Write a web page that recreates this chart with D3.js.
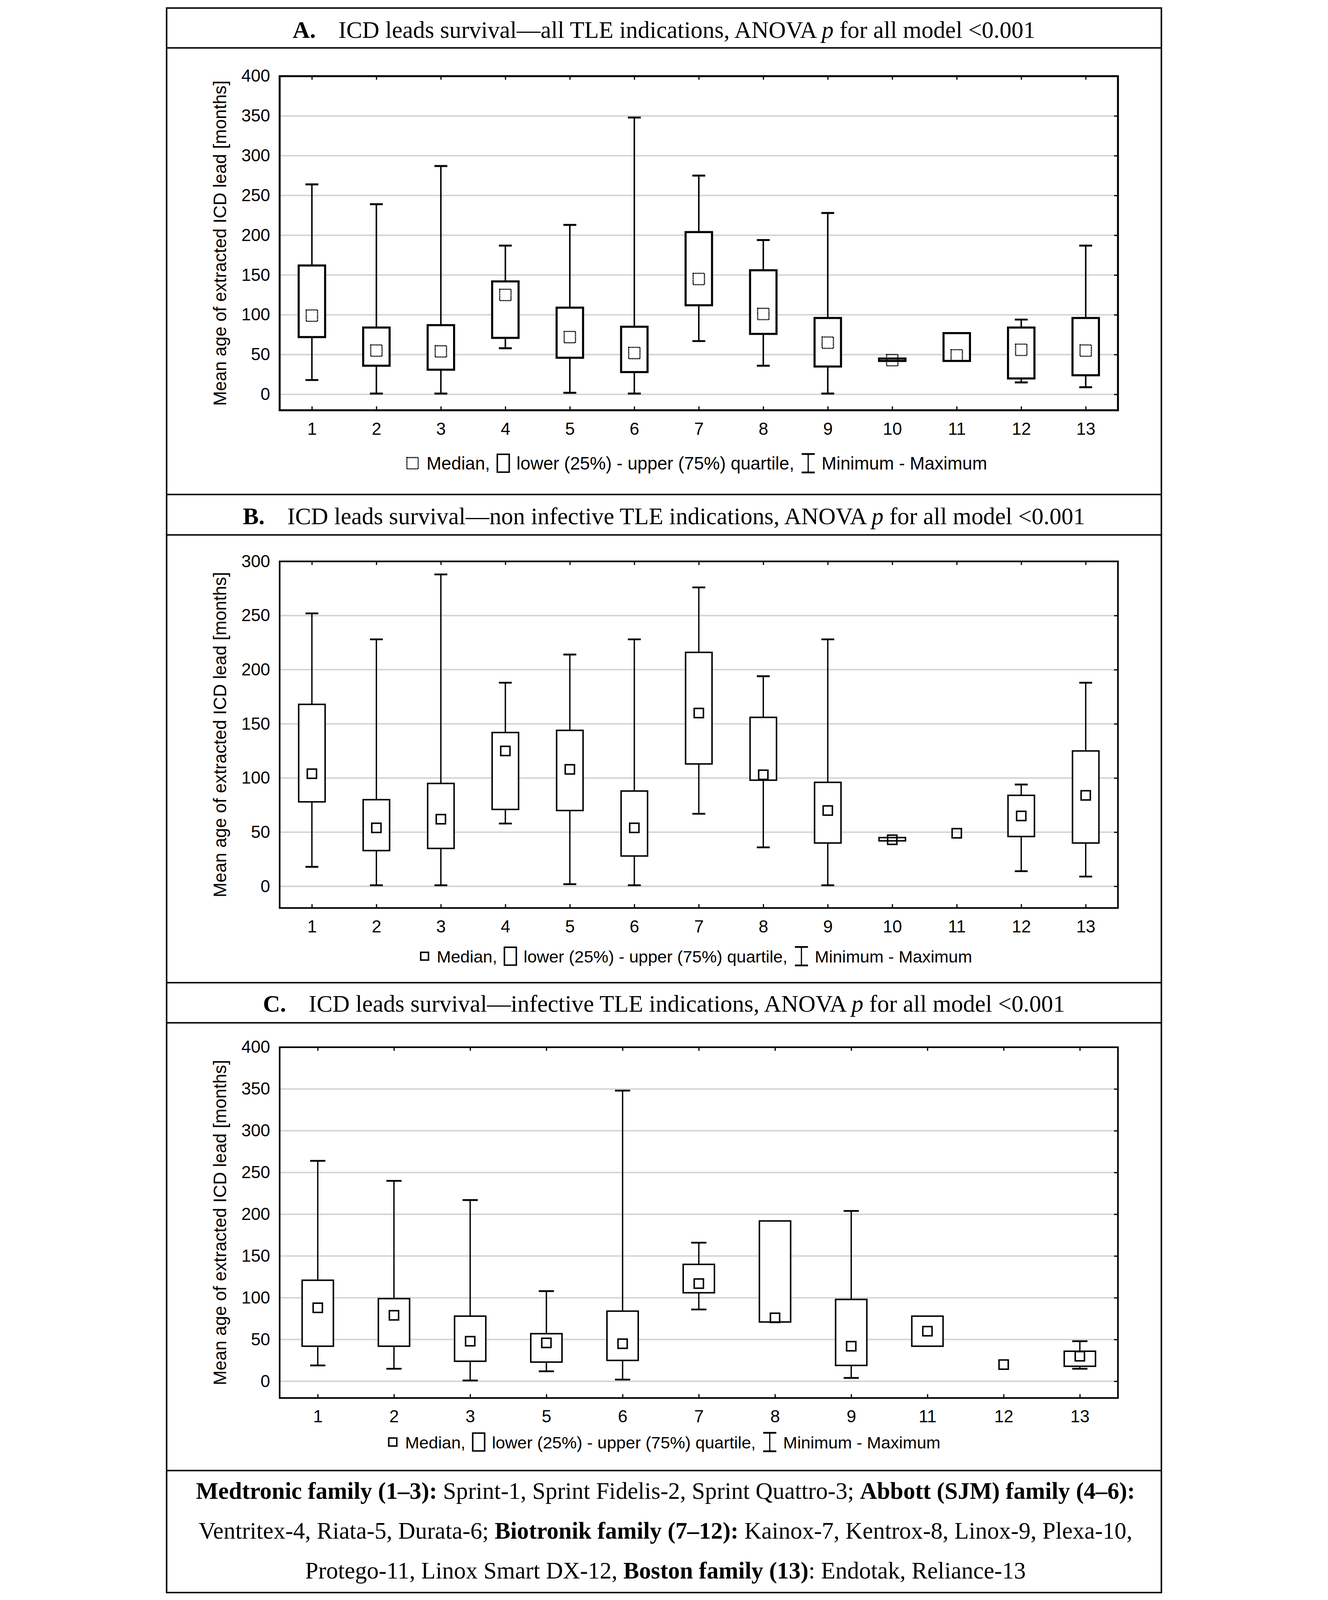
<!DOCTYPE html>
<html>
<head>
<meta charset="utf-8">
<script src="https://cdn.jsdelivr.net/npm/d3@7"></script>
<style>
html,body{margin:0;padding:0;background:#fff;overflow:hidden}
svg{display:block}
</style>
</head>
<body>
<svg id="chart" viewBox="0 0 3400 5378" preserveAspectRatio="xMidYMin meet"></svg>
<script>
// panel A - all TLE indications
const catsA = ["1","2","3","4","5","6","7","8","9","10","11","12","13"];
const minA = [18, 1, 1, 58, 2, 1, 67, 36, 1, 42, 42, 15, 9];
const q1A  = [72, 36, 31, 71, 46, 28, 112, 76, 35, 42, 42, 20, 24];
const medA = [99, 55, 54, 125, 72, 52, 145, 101, 65, 43, 49, 56, 55];
const q3A  = [162, 84, 87, 142, 109, 85, 204, 156, 96, 45, 77, 84, 96];
const maxA = [264, 239, 287, 187, 213, 348, 275, 194, 228, 45, 77, 94, 187];

// panel B - non infective
const catsB = ["1","2","3","4","5","6","7","8","9","10","11","12","13"];
const minB = [18, 1, 1, 58, 2, 1, 67, 36, 1, 42, 49, 14, 9];
const q1B  = [78, 33, 35, 71, 70, 28, 113, 98, 40, 42, 49, 46, 40];
const medB = [104, 54, 62, 125, 108, 54, 160, 103, 70, 43, 49, 65, 84];
const q3B  = [168, 80, 95, 142, 144, 88, 216, 156, 96, 45, 49, 84, 125];
const maxB = [252, 228, 288, 188, 214, 228, 276, 194, 228, 45, 49, 94, 188];

// panel C - infective (no 4 and 10)
const catsC = ["1","2","3","5","6","7","8","9","11","12","13"];
const minC = [19, 15, 1, 12, 2, 86, 71, 4, 42, 20, 15];
const q1C  = [42, 42, 24, 23, 25, 106, 71, 19, 42, 20, 18];
const medC = [88, 79, 48, 46, 45, 117, 76, 42, 60, 20, 30];
const q3C  = [121, 99, 78, 57, 84, 140, 192, 98, 78, 20, 36];
const maxC = [264, 240, 217, 108, 348, 166, 192, 204, 78, 20, 48];

const yMaxA = 400, yMaxB = 300, yMaxC = 400;
const Y_MIN = -20;

const yLabel = "Mean age of extracted ICD lead [months]";
const legendLabels = ["Median,", "lower (25%) - upper (75%) quartile,", "Minimum - Maximum"];

const titleA = ["A.", "ICD leads survival\u2014all TLE indications, ANOVA ", "p", " for all model <0.001"];
const titleB = ["B.", "ICD leads survival\u2014non infective TLE indications, ANOVA ", "p", " for all model <0.001"];
const titleC = ["C.", "ICD leads survival\u2014infective TLE indications, ANOVA ", "p", " for all model <0.001"];

// footer lines, [text, bold]
const footer = [
  [["Medtronic family (1\u20133):", true], [" Sprint-1, Sprint Fidelis-2, Sprint Quattro-3; ", false], ["Abbott (SJM) family (4\u20136):", true]],
  [["Ventritex-4, Riata-5, Durata-6; ", false], ["Biotronik family (7\u201312):", true], [" Kainox-7, Kentrox-8, Linox-9, Plexa-10,", false]],
  [["Protego-11, Linox Smart DX-12, ", false], ["Boston family (13)", true], [": Endotak, Reliance-13", false]]
];

const SERIF = "'Liberation Serif','DejaVu Serif',serif";
const SANS = "'Liberation Sans',Arial,sans-serif";

// fit the whole 3400x5378 drawing into the window
const svg = d3.select("#chart")
  .attr("width", window.innerWidth)
  .attr("height", window.innerHeight);
svg.append("rect").attr("width", 3400).attr("height", 5378).attr("fill", "#fff");

const PLOT_L = 408, PLOT_R = 3226;

// outer frame + separators
svg.append("rect").attr("x", 28).attr("y", 27).attr("width", 3344).attr("height", 5326)
  .attr("fill", "none").attr("stroke", "#000").attr("stroke-width", 5);
[161, 1662, 1798, 3303, 3438, 4943].forEach(yy => {
  svg.append("line").attr("x1", 28).attr("x2", 3372).attr("y1", yy).attr("y2", yy)
    .attr("stroke", "#000").attr("stroke-width", 5);
});

function drawTitle(parts, baseline, fs) {
  const t = svg.append("text").attr("x", 1700).attr("y", baseline)
    .attr("text-anchor", "middle").attr("font-family", SERIF).attr("font-size", fs);
  t.append("tspan").attr("font-weight", "bold").text(parts[0]);
  t.append("tspan").attr("dx", fs * 0.95).text(parts[1]);
  t.append("tspan").attr("font-style", "italic").text(parts[2]);
  t.append("tspan").text(parts[3]);
  return t;
}

// fit title size to the reference width
let tfs = 80;
const probe = drawTitle(titleA, 127, tfs);
tfs = tfs * 2496 / probe.node().getBBox().width;
probe.remove();
drawTitle(titleA, 127, tfs);
drawTitle(titleB, 1762, tfs);
drawTitle(titleC, 3400, tfs);

function addText(g, str, x, baseline, fs) {
  const t = g.append("text").attr("x", x).attr("y", baseline)
    .attr("font-family", SANS).attr("font-size", fs).text(str);
  return x + t.node().getComputedTextLength();
}

function drawLegend(cx, baseline, ms, dotted, fs) {
  const g = svg.append("g");
  const cy = baseline - 21;
  let cur = 0;
  g.append("rect").attr("x", cur).attr("y", cy - ms / 2).attr("width", ms).attr("height", ms)
    .attr("fill", "#fff").attr("stroke", "#000")
    .attr("stroke-width", dotted ? 4 : 5).attr("stroke-dasharray", dotted ? "4 1.5" : null);
  cur += ms + 28;
  cur = addText(g, legendLabels[0], cur, baseline, fs) + 22;
  g.append("rect").attr("x", cur + 2.5).attr("y", cy - 30).attr("width", 40).attr("height", 60)
    .attr("fill", "#fff").attr("stroke", "#000").attr("stroke-width", 5);
  cur += 45 + 22;
  cur = addText(g, legendLabels[1], cur, baseline, fs) + 24;
  const wx = cur + 23;
  g.append("line").attr("x1", wx).attr("x2", wx).attr("y1", cy - 31).attr("y2", cy + 31)
    .attr("stroke", "#000").attr("stroke-width", 4);
  [cy - 31, cy + 31].forEach(yy => g.append("line").attr("x1", wx - 22).attr("x2", wx + 22)
    .attr("y1", yy).attr("y2", yy).attr("stroke", "#000").attr("stroke-width", 6));
  cur += 46 + 22;
  cur = addText(g, legendLabels[2], cur, baseline, fs);
  g.attr("transform", `translate(${cx - cur / 2},0)`);
}

function drawPanel(p) {
  const x = d3.scalePoint().domain(p.cats).range([PLOT_L, PLOT_R]).padding(0.5);
  const y = d3.scaleLinear().domain([Y_MIN, p.yMax]).range([p.bottom, p.top]);
  const ticks = d3.range(0, p.yMax + 1, 50);
  const inner = ticks.filter(t => t < p.yMax);
  const g = svg.append("g");

  // grid
  g.selectAll(".grid").data(inner).join("line")
    .attr("x1", PLOT_L).attr("x2", PLOT_R).attr("y1", d => y(d)).attr("y2", d => y(d))
    .attr("stroke", "#d4d4d4").attr("stroke-width", 5);

  const rows = p.cats.map((c, i) => ({c, min: p.min[i], q1: p.q1[i], med: p.med[i], q3: p.q3[i], max: p.max[i]}));
  const step = x.step();
  const bw = step * 0.41, cw = step * 0.2;

  const s = g.selectAll(".box").data(rows).join("g");
  s.each(function(d) {
    const el = d3.select(this);
    const cx = x(d.c);
    if (d.max > d.q3) {
      el.append("line").attr("x1", cx).attr("x2", cx).attr("y1", y(d.q3)).attr("y2", y(d.max))
        .attr("stroke", "#000").attr("stroke-width", p.ww);
      el.append("line").attr("x1", cx - cw / 2).attr("x2", cx + cw / 2).attr("y1", y(d.max)).attr("y2", y(d.max))
        .attr("stroke", "#000").attr("stroke-width", p.ww + 1.5);
    }
    if (d.min < d.q1) {
      el.append("line").attr("x1", cx).attr("x2", cx).attr("y1", y(d.q1)).attr("y2", y(d.min))
        .attr("stroke", "#000").attr("stroke-width", p.ww);
      el.append("line").attr("x1", cx - cw / 2).attr("x2", cx + cw / 2).attr("y1", y(d.min)).attr("y2", y(d.min))
        .attr("stroke", "#000").attr("stroke-width", p.ww + 1.5);
    }
    if (d.q3 > d.q1) {
      el.append("rect").attr("x", cx - bw / 2).attr("y", y(d.q3)).attr("width", bw)
        .attr("height", y(d.q1) - y(d.q3))
        .attr("fill", "#fff").attr("stroke", "#000").attr("stroke-width", p.bsw);
    }
    el.append("rect").attr("x", cx - p.ms / 2).attr("y", y(d.med) - p.ms / 2)
      .attr("width", p.ms).attr("height", p.ms)
      .attr("fill", "none").attr("stroke", "#000")
      .attr("stroke-width", p.dotted ? 4 : 5)
      .attr("stroke-dasharray", p.dotted ? "4 1.5" : null);
  });

  // plot frame
  g.append("rect").attr("x", PLOT_L).attr("y", p.top).attr("width", PLOT_R - PLOT_L)
    .attr("height", p.bottom - p.top).attr("fill", "none").attr("stroke", "#000").attr("stroke-width", p.aw);

  const style = sel => {
    sel.select(".domain").remove();
    sel.attr("font-family", SANS).attr("font-size", 58);
    sel.selectAll("line").attr("stroke-width", 4);
  };

  g.append("g").attr("transform", `translate(${PLOT_L},0)`)
    .call(d3.axisLeft(y).tickValues(ticks).tickSize(0).tickPadding(32)).call(style);
  g.append("g").attr("transform", `translate(${PLOT_R},0)`)
    .call(d3.axisLeft(y).tickValues(inner).tickSize(13).tickFormat("")).call(style);
  g.append("g").attr("transform", `translate(0,${p.top})`)
    .call(d3.axisBottom(x).tickSize(12).tickFormat("")).call(style);
  g.append("g").attr("transform", `translate(0,${p.bottom})`)
    .call(d3.axisTop(x).tickSize(13).tickFormat("")).call(style);
  g.append("g").attr("transform", `translate(0,${p.bottom})`)
    .call(d3.axisBottom(x).tickSize(0).tickPadding(41)).call(style);

  g.append("text").attr("transform", `translate(228,${(p.top + p.bottom) / 2}) rotate(-90)`)
    .attr("text-anchor", "middle").attr("font-family", SANS).attr("font-size", 60).text(yLabel);

  drawLegend(p.legX, p.legY, p.lms, p.dotted, p.lfs);
}

drawPanel({cats: catsA, min: minA, q1: q1A, med: medA, q3: q3A, max: maxA, yMax: yMaxA,
  top: 256, bottom: 1379, ms: 38, bsw: 7, ww: 5, aw: 6.5, dotted: true,
  legX: 1811, legY: 1578, lms: 38, lfs: 60});
drawPanel({cats: catsB, min: minB, q1: q1B, med: medB, q3: q3B, max: maxB, yMax: yMaxB,
  top: 1887, bottom: 3052, ms: 31, bsw: 5, ww: 4.5, aw: 5.5, dotted: false,
  legX: 1809, legY: 3235, lms: 26, lfs: 57});
drawPanel({cats: catsC, min: minC, q1: q1C, med: medC, q3: q3C, max: maxC, yMax: yMaxC,
  top: 3520, bottom: 4699, ms: 31, bsw: 5, ww: 4.5, aw: 5.5, dotted: false,
  legX: 1702, legY: 4868, lms: 27, lfs: 57});

// footer caption
function drawFooterLine(segs, baseline, fs) {
  const t = svg.append("text").attr("x", 1705).attr("y", baseline)
    .attr("text-anchor", "middle").attr("font-family", SERIF).attr("font-size", fs);
  segs.forEach(sg => t.append("tspan").attr("font-weight", sg[1] ? "bold" : null).text(sg[0]));
  return t;
}
let ffs = 70;
const fprobe = drawFooterLine(footer[0], 5038, ffs);
ffs = ffs * 3156 / fprobe.node().getBBox().width;
fprobe.remove();
[5038, 5172, 5306].forEach((b, i) => drawFooterLine(footer[i], b, ffs));
</script>
</body>
</html>
